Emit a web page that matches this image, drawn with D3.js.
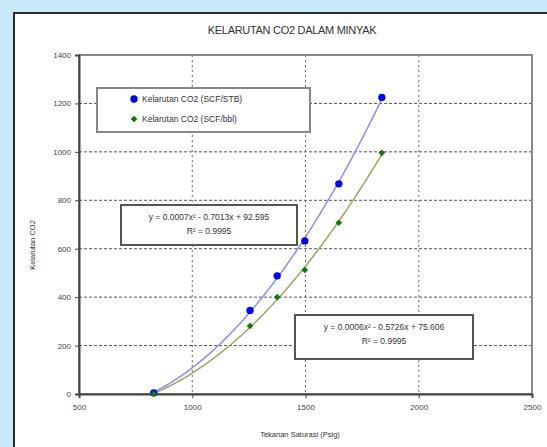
<!DOCTYPE html>
<html>
<head>
<meta charset="utf-8">
<script src="https://cdn.jsdelivr.net/npm/d3@7"></script>
<style>
  html, body { margin: 0; padding: 0; background: #c8e9f8; overflow: hidden; }
  svg { display: block; font-family: "Liberation Sans", Arial, sans-serif; }
</style>
</head>
<body>
<svg id="chart" width="547" height="447"></svg>
<script>
// Saturation pressure (psig) and CO2 solubility in oil
const pressure = [830, 1255, 1375, 1497, 1647, 1837];
const solubilitySTB = [5, 345, 488, 632, 868, 1225];
const solubilityBbl = [0, 281, 400, 512, 707, 996];

const xTicks = [500, 1000, 1500, 2000, 2500];
const yTicks = [0, 200, 400, 600, 800, 1000, 1200, 1400];

const seriesNames = ["Kelarutan CO2 (SCF/STB)", "Kelarutan CO2 (SCF/bbl)"];
const equations = [
  ["y = 0.0007x\u00B2 - 0.7013x + 92.595", "R\u00B2 = 0.9995"],
  ["y = 0.0006x\u00B2 - 0.5726x + 75.606", "R\u00B2 = 0.9995"]
];

const svg = d3.select("#chart");
const W = 547, H = 447;

// white chart panel (runs off the right and bottom edges)
svg.append("rect").attr("x", 14).attr("y", 13).attr("width", W + 40).attr("height", H + 40)
  .attr("fill", "#fff").attr("stroke", "#2b2b2b").attr("stroke-width", 2);

const m = { left: 79, right: 532, top: 55, bottom: 394 };
const x = d3.scaleLinear().domain([500, 2500]).range([m.left, m.right]);
const y = d3.scaleLinear().domain([0, 1400]).range([m.bottom, m.top]);

// title
svg.append("text").attr("x", 292).attr("y", 34).attr("text-anchor", "middle")
  .attr("font-size", 11).attr("fill", "#333").attr("letter-spacing", -0.3)
  .text("KELARUTAN CO2 DALAM MINYAK");

// horizontal dashed gridlines
svg.append("g").selectAll("line").data(yTicks.filter(d => d > 0 && d < 1400)).join("line")
  .attr("x1", m.left).attr("x2", m.right).attr("y1", d => y(d)).attr("y2", d => y(d))
  .attr("stroke", "#555").attr("stroke-width", 1).attr("stroke-dasharray", "3,2");

// vertical dotted gridlines
svg.append("g").selectAll("line").data(xTicks.filter(d => d > 500 && d < 2500)).join("line")
  .attr("x1", d => x(d)).attr("x2", d => x(d)).attr("y1", m.top).attr("y2", m.bottom)
  .attr("stroke", "#666").attr("stroke-width", 1).attr("stroke-dasharray", "2,3");

// plot frame
svg.append("rect").attr("x", m.left).attr("y", m.top)
  .attr("width", m.right - m.left).attr("height", m.bottom - m.top)
  .attr("fill", "none").attr("stroke", "#888").attr("stroke-width", 2);

// axes
const fmt = d3.format("d");
const yAxis = d3.axisLeft(y).tickValues(yTicks).tickFormat(fmt).tickSize(4).tickPadding(4);
const gy = svg.append("g").attr("transform", `translate(${m.left},0)`).call(yAxis);
const xAxis = d3.axisBottom(x).tickValues(xTicks).tickFormat(fmt).tickSize(4).tickPadding(6);
const gx = svg.append("g").attr("transform", `translate(0,${m.bottom})`).call(xAxis);
[gx, gy].forEach(g => {
  g.select(".domain").attr("stroke", "#444").attr("stroke-width", 2);
  g.selectAll(".tick line").attr("stroke", "#444");
  g.selectAll(".tick text").attr("font-size", 8).attr("fill", "#444")
    .attr("font-family", "'Liberation Sans', Arial, sans-serif");
});

// axis titles
svg.append("text").attr("x", 300).attr("y", 437).attr("text-anchor", "middle")
  .attr("font-size", 7.5).attr("fill", "#333").text("Tekanan Saturasi (Psig)");
svg.append("text").attr("transform", "translate(35,245) rotate(-90)").attr("text-anchor", "middle")
  .attr("font-size", 7.5).attr("fill", "#333").text("Kelarutan CO2");

// least-squares quadratic fit for the trendlines
function quadFit(xs, ys) {
  const n = xs.length;
  let s = [0, 0, 0, 0, 0], t = [0, 0, 0];
  for (let i = 0; i < n; i++) {
    const xi = xs[i];
    for (let k = 0; k < 5; k++) s[k] += Math.pow(xi, k);
    for (let k = 0; k < 3; k++) t[k] += ys[i] * Math.pow(xi, k);
  }
  const A = [[s[0], s[1], s[2], t[0]], [s[1], s[2], s[3], t[1]], [s[2], s[3], s[4], t[2]]];
  for (let i = 0; i < 3; i++) {
    for (let j = i + 1; j < 3; j++) {
      const f = A[j][i] / A[i][i];
      for (let k = i; k < 4; k++) A[j][k] -= f * A[i][k];
    }
  }
  const c = [0, 0, 0];
  for (let i = 2; i >= 0; i--) {
    let v = A[i][3];
    for (let k = i + 1; k < 3; k++) v -= A[i][k] * c[k];
    c[i] = v / A[i][i];
  }
  return xv => c[0] + c[1] * xv + c[2] * xv * xv;
}

const series = [
  { values: solubilitySTB, color: "#0000ff", trend: "#8c8cff", shape: d3.symbolCircle, size: 42, rot: 0 },
  { values: solubilityBbl, color: "#0a7a0a", trend: "#a3a35c", shape: d3.symbolSquare, size: 22, rot: 45 }
];

const line = d3.line().x(d => x(d[0])).y(d => y(d[1]));
series.forEach(s => {
  const f = quadFit(pressure, s.values);
  const x0 = d3.min(pressure), x1 = d3.max(pressure);
  const pts = d3.range(0, 61).map(i => { const xv = x0 + (x1 - x0) * i / 60; return [xv, f(xv)]; });
  svg.append("path").datum(pts).attr("d", line).attr("fill", "none")
    .attr("stroke", s.trend).attr("stroke-width", 1.5);
});

series.forEach(s => {
  svg.append("g").selectAll("path").data(pressure.map((p, i) => [p, s.values[i]])).join("path")
    .attr("transform", d => `translate(${x(d[0])},${y(d[1])}) rotate(${s.rot})`)
    .attr("d", d3.symbol().type(s.shape).size(s.size))
    .attr("fill", s.color);
});

// legend
const lg = svg.append("g");
lg.append("rect").attr("x", 97).attr("y", 88).attr("width", 213).attr("height", 44)
  .attr("fill", "#fff").attr("stroke", "#888").attr("stroke-width", 2);
series.forEach((s, i) => {
  const cy = 99 + i * 20;
  lg.append("path").attr("transform", `translate(134,${cy}) rotate(${s.rot})`)
    .attr("d", d3.symbol().type(s.shape).size(s.size)).attr("fill", s.color);
  lg.append("text").attr("x", 142).attr("y", cy + 3).attr("font-size", 8.5).attr("fill", "#333")
    .text(seriesNames[i]);
});

// trendline equation boxes
const boxes = [
  { x: 121, y: 205, w: 176, h: 40 },
  { x: 295, y: 315, w: 178, h: 44 }
];
boxes.forEach((b, i) => {
  const g = svg.append("g");
  g.append("rect").attr("x", b.x).attr("y", b.y).attr("width", b.w).attr("height", b.h)
    .attr("fill", "#fff").attr("stroke", "#555").attr("stroke-width", 2);
  equations[i].forEach((t, j) => {
    g.append("text").attr("x", b.x + b.w / 2).attr("y", b.y + 15 + j * 14)
      .attr("text-anchor", "middle").attr("font-size", 8.5).attr("fill", "#333").text(t);
  });
});
</script>
</body>
</html>
